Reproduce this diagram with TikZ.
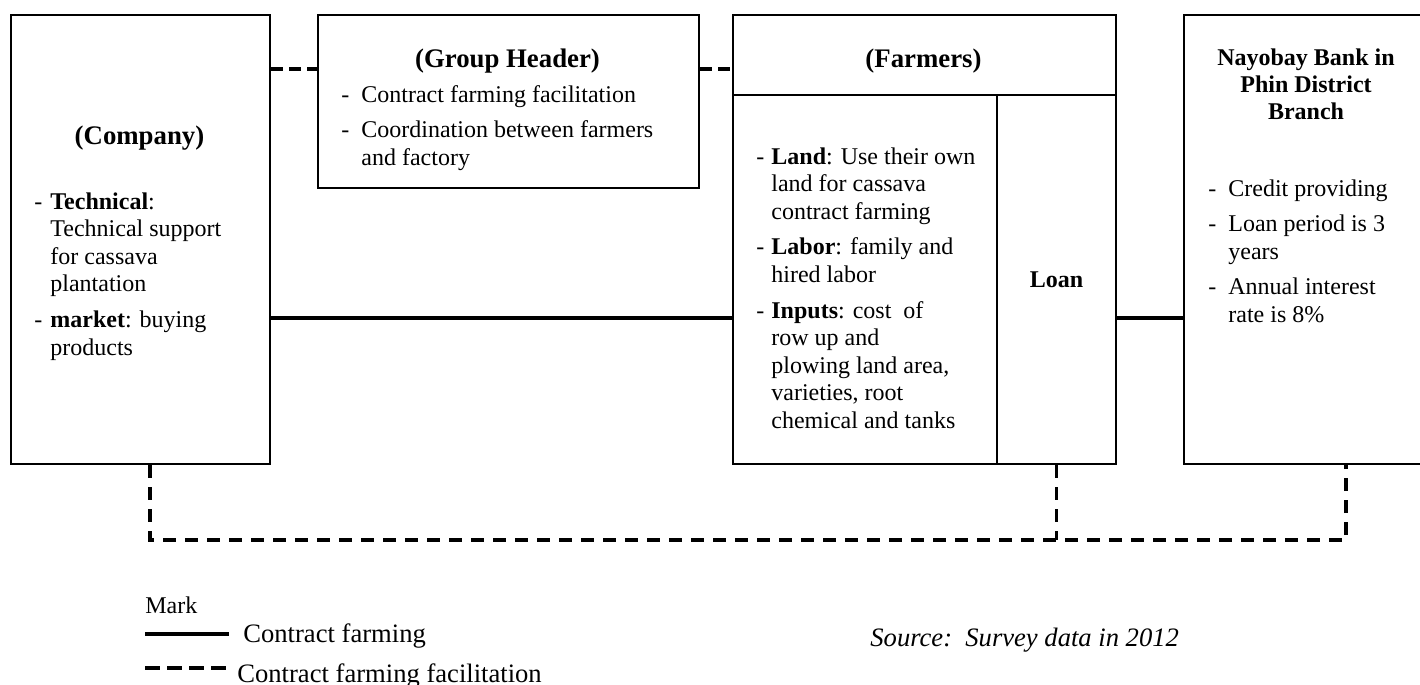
\documentclass[tikz,border=0pt]{standalone}
\usepackage{fontspec}
\setmainfont{Liberation Serif}
\usetikzlibrary{calc}

\newcommand\dashlist[2]{\begin{tabular}[t]{@{}p{#1}@{}l@{}}#2\end{tabular}}

\begin{document}
\begin{tikzpicture}[x=0.5pt,y=-0.5pt,
    box/.style={draw,line width=1pt,rectangle,anchor=north west,inner sep=0pt},
    contract/.style={line width=1.6pt},
    facil/.style={line width=1.6pt,dash pattern=on 6.5pt off 4.5pt},
    body/.style={inner sep=0pt,anchor=base west,font=\fontsize{12}{13.8}\selectfont},
    head/.style={inner sep=0pt,anchor=base,font=\fontsize{13.4}{15}\selectfont\bfseries},
    legend/.style={inner sep=0pt,anchor=base west,font=\fontsize{13.3}{15}\selectfont}]
    \def\u{0.5pt}
    \useasboundingbox (0,0) rectangle (1420,685);
    % boxes
    \node[box,minimum width=259*\u,minimum height=449*\u] (company) at (10,14) {};
    \node[box,minimum width=381*\u,minimum height=173*\u] (header) at (317,14) {};
    \node[box,minimum width=383*\u,minimum height=80*\u] (farmtitle) at (732,14) {};
    \node[box,minimum width=264*\u,minimum height=369*\u] (farmwork) at (732,94) {};
    \node[box,minimum width=119*\u,minimum height=369*\u,
          font=\fontsize{12}{13.8}\selectfont\bfseries] (loan) at (996,94) {Loan};
    \node[box,minimum width=250*\u,minimum height=449*\u] (bank) at (1183,14) {};
    % texts
    \node[head] (companyname) at (139.5,144) {(Company)};
    \node[body] (companytext) at (34,209) {\dashlist{8pt}{- & \textbf{Technical}:\\
        & Technical support\\ & for cassava\\ & plantation\\[4pt]
        - & \textbf{market}: buying\\ & products}};
    \node[head] (headername) at (507.5,68) {(Group Header)};
    \node[body] (headertext) at (341,102) {\dashlist{10pt}{- & Contract farming facilitation\\[4pt]
        - & Coordination between farmers\\ & and factory}};
    \node[head] (farmname) at (923.5,67) {(Farmers)};
    \node[body] (farmtext) at (756,164) {\dashlist{7.5pt}{- & \textbf{Land}: Use their own\\
        & land for cassava\\ & contract farming\\[4pt]
        - & \textbf{Labor}: family and\\ & hired labor\\[4pt]
        - & \textbf{Inputs}: cost\ \ of\\ & row up and\\ & plowing land area,\\
        & varieties, root\\ & chemical and tanks}};
    \node[body,anchor=base,font=\fontsize{12}{13.5}\selectfont\bfseries] (bankname) at (1306,65)
        {\begin{tabular}[t]{@{}c@{}}Nayobay Bank in\\ Phin District\\ Branch\end{tabular}};
    \node[body] (banktext) at (1208,196) {\dashlist{10pt}{- & Credit providing\\[4pt]
        - & Loan period is 3\\ & years\\[4pt]
        - & Annual interest\\ & rate is 8\%}};
    % connectors
    \draw[facil,dash pattern=on 6pt off 3pt] ([yshift=-27.5pt]company.north east)
        -- ([yshift=-27.5pt]header.north west); % company - header
    \draw[facil,dash pattern=on 6pt off 3pt] ([yshift=-27.5pt]header.north east)
        -- ([yshift=-27.5pt]farmtitle.north west); % header - farmers
    \draw[contract] ([yshift=-152pt]company.north east) coordinate (c1) -- (c1 -| farmwork.west); % company - farmers
    \draw[contract] (c1 -| loan.east) -- (c1 -| bank.west); % loan - bank
    \draw[facil] ([xshift=4.75pt]company.south) -- ++(0,-37.5pt) coordinate (d1)
        -| ([xshift=18.5pt]bank.south); % bottom link
    \draw[facil] (loan.south) -- (loan.south |- d1);
    % legend
    \node[inner sep=0pt,anchor=base west,font=\fontsize{12}{14}\selectfont] (mark) at (145,613) {Mark};
    \draw[contract,line width=1.8pt] (145,634) -- (229,634);
    \node[legend] (legcontract) at (243,642) {Contract farming};
    \draw[facil,dash pattern=on 7.5pt off 3.5pt] (145,668) -- (227,668);
    \node[legend] (legfacil) at (237,682) {Contract farming facilitation};
    \node[legend,font=\fontsize{13.3}{15}\selectfont\itshape] (source) at (870,646) {Source:\ \ Survey data in 2012};
\end{tikzpicture}
\end{document}
